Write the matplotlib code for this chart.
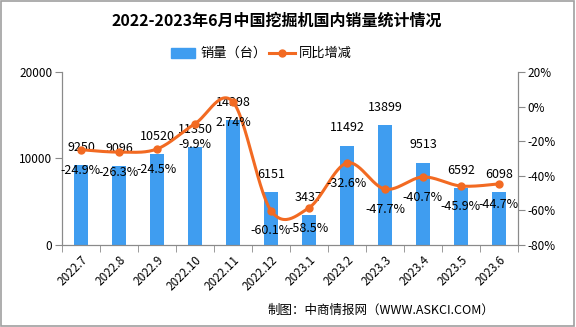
import numpy as np
import matplotlib.pyplot as plt
from matplotlib.patches import Rectangle

plt.rcParams['font.family'] = ['Noto Sans CJK SC', 'DejaVu Sans']

months = ['2022.7', '2022.8', '2022.9', '2022.10', '2022.11', '2022.12',
          '2023.1', '2023.2', '2023.3', '2023.4', '2023.5', '2023.6']
sales = [9250, 9096, 10520, 11350, 14398, 6151, 3437, 11492, 13899, 9513, 6592, 6098]
yoy = [-24.9, -26.3, -24.5, -9.9, 2.74, -60.1, -58.5, -32.6, -47.7, -40.7, -45.9, -44.7]
yoy_labels = ['-24.9%', '-26.3%', '-24.5%', '-9.9%', '2.74%', '-60.1%', '-58.5%',
              '-32.6%', '-47.7%', '-40.7%', '-45.9%', '-44.7%']

bar_color = '#3f9df0'
line_color = '#f26a22'
axis_color = '#8a8a8a'


def smooth(xs, ys, n=30):
    # bezier smoothing like office charts (catmull-rom style)
    xs = np.asarray(xs, float)
    ys = np.asarray(ys, float)
    px = np.concatenate([[xs[0]], xs, [xs[-1]]])
    py = np.concatenate([[ys[0]], ys, [ys[-1]]])
    outx, outy = [], []
    t = np.linspace(0, 1, n)
    for i in range(1, len(px) - 2):
        p0 = np.array([px[i], py[i]])
        p3 = np.array([px[i + 1], py[i + 1]])
        c1 = p0 + (np.array([px[i + 1], py[i + 1]]) - np.array([px[i - 1], py[i - 1]])) / 6
        c2 = p3 - (np.array([px[i + 2], py[i + 2]]) - np.array([px[i], py[i]])) / 6
        b = ((1 - t) ** 3)[:, None] * p0 + (3 * (1 - t) ** 2 * t)[:, None] * c1 \
            + (3 * (1 - t) * t ** 2)[:, None] * c2 + (t ** 3)[:, None] * p3
        outx.extend(b[:, 0])
        outy.extend(b[:, 1])
    return outx, outy


fig = plt.figure(figsize=(5.76, 3.27), dpi=100)
fig.patches.append(Rectangle((0.002, 0.003), 0.995, 0.994, transform=fig.transFigure,
                             fill=False, edgecolor='#a0a0a0', linewidth=1.2))

ax = fig.add_axes([0.1076, 0.2508, 0.7916, 0.529])
x = np.arange(len(months))
ax.bar(x, sales, width=0.35, color=bar_color, zorder=2)
ax.set_xlim(-0.5, len(months) - 0.5)
ax.set_ylim(0, 20000)
ax.set_yticks([0, 10000, 20000])
ax.set_yticklabels(['0', '10000', '20000'])
ax.set_xticks(x)
ax.set_xticklabels(months, rotation=45, ha='right', rotation_mode='anchor')
ax.set_xticks(np.arange(-0.5, len(months)), minor=True)
ax.tick_params(axis='x', which='major', length=0, pad=6, labelsize=8.5)
ax.tick_params(axis='x', which='minor', length=5, color=axis_color)
ax.tick_params(axis='y', length=5, color=axis_color, labelsize=8.5, pad=2)
ax.spines['top'].set_visible(False)
for s in ['left', 'bottom', 'right']:
    ax.spines[s].set_color(axis_color)

for xi, v in zip(x, sales):
    ax.text(xi, v + 1300, str(v), ha='center', va='bottom', fontsize=9, zorder=5)

ax2 = ax.twinx()
ax2.set_ylim(-80, 20)
ax2.set_yticks([20, 0, -20, -40, -60, -80])
ax2.set_yticklabels(['20%', '0%', '-20%', '-40%', '-60%', '-80%'])
ax2.tick_params(axis='y', length=5, color=axis_color, labelsize=8.5, pad=2)
for s in ['left', 'bottom', 'right']:
    ax2.spines[s].set_color(axis_color)
ax2.spines['top'].set_visible(False)

sx, sy = smooth(x, yoy)
ax2.plot(sx, sy, color=line_color, linewidth=2.2, zorder=3)
ax2.plot(x, yoy, 'o', color=line_color, markersize=5, zorder=4)
for xi, v, lab in zip(x, yoy, yoy_labels):
    ax2.text(xi, v - 8, lab, ha='center', va='top', fontsize=9, zorder=5)

fig.text(0.481, 1 - 21 / 327, '2022-2023年6月中国挖掘机国内销量统计情况', ha='center',
         va='center', fontsize=11.5, fontweight='bold')

# legend
fig.patches.append(Rectangle((171 / 576, 1 - 58 / 327), 24 / 576, 10 / 327,
                             transform=fig.transFigure, color=bar_color))
fig.text(200 / 576, 1 - 53 / 327, '销量（台）', va='center', fontsize=9.5)
fig.lines.append(plt.Line2D([269 / 576, 295 / 576], [1 - 53 / 327, 1 - 53 / 327],
                            transform=fig.transFigure, color=line_color, linewidth=2.2))
fig.lines.append(plt.Line2D([282 / 576], [1 - 53 / 327], transform=fig.transFigure,
                            color=line_color, marker='o', markersize=5))
fig.text(299 / 576, 1 - 53 / 327, '同比增减', va='center', fontsize=9.5)

fig.text(494 / 576, 1 - 310 / 327, '制图：中商情报网（WWW.ASKCI.COM）', ha='right',
         va='center', fontsize=9)

fig.savefig('out.png', dpi=100)
